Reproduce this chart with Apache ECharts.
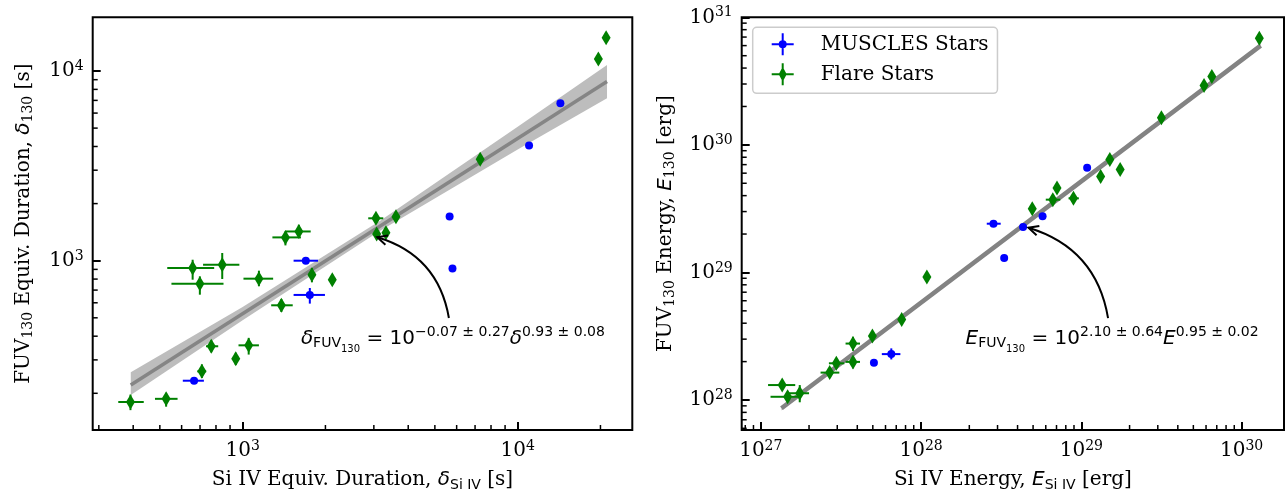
<!DOCTYPE html>
<html>
<head>
<meta charset="utf-8">
<script src="https://cdn.jsdelivr.net/npm/echarts@6.0.0/dist/echarts.min.js"></script>
<style>
	html, body { margin: 0; padding: 0; background: #fff; }
	#chart { width: 1286px; height: 495px; }
</style>
</head>
<body>
<div id="chart"></div>
<script>
// rows: [x, y, xLow, xHigh, yLow, yHigh]  (0 = no error bar)
var leftMuscles = [
	[666, 233, 606, 723, 0, 0],
	[1697, 1000, 1532, 1879, 0, 0],
	[1755, 660, 1532, 1992, 594, 718],
	[5657, 1711, 0, 0, 0, 0],
	[5794, 911, 0, 0, 0, 0],
	[11000, 4046, 0, 0, 0, 0],
	[14300, 6760, 0, 0, 0, 0]
];
var leftFlare = [
	[391, 180, 353, 437, 163, 197],
	[527, 187, 480, 580, 170, 201],
	[711, 261, 684, 737, 241, 284],
	[769, 354, 736, 815, 329, 381],
	[944, 304, 0, 0, 282, 327],
	[1052, 358, 966, 1146, 320, 392],
	[658, 915, 532, 788, 794, 1012],
	[699, 757, 551, 852, 662, 827],
	[843, 953, 718, 973, 801, 1098],
	[1146, 804, 1007, 1291, 733, 886],
	[1383, 582, 1270, 1521, 537, 628],
	[1431, 1327, 1283, 1629, 1204, 1427],
	[1601, 1426, 1431, 1768, 1316, 1547],
	[1786, 842, 0, 0, 769, 915],
	[2118, 794, 0, 0, 748, 844],
	[3053, 1673, 2862, 3246, 0, 0],
	[3071, 1383, 0, 0, 0, 0],
	[3319, 1405, 0, 0, 0, 0],
	[3610, 1706, 0, 0, 0, 0],
	[7306, 3428, 0, 0, 0, 0],
	[19650, 11570, 0, 0, 0, 0],
	[20970, 14970, 0, 0, 0, 0]
];
var rightMuscles = [
	[5.08e27, 1.96e28, 0, 0, 0, 0],
	[6.52e27, 2.29e28, 5.69e27, 7.43e27, 2.08e28, 2.54e28],
	[2.83e28, 2.41e29, 2.57e28, 3.14e28, 0, 0],
	[3.30e28, 1.30e29, 0, 0, 0, 0],
	[4.33e28, 2.27e29, 0, 0, 0, 0],
	[5.73e28, 2.76e29, 0, 0, 0, 0],
	[1.087e29, 6.62e29, 0, 0, 0, 0]
];
var rightFlare = [
	[1.36e27, 1.31e28, 1.11e27, 1.64e27, 0, 0],
	[1.47e27, 1.06e28, 1.15e27, 1.71e27, 0, 0],
	[1.75e27, 1.13e28, 1.48e27, 2.0e27, 9.6e27, 1.31e28],
	[2.69e27, 1.64e28, 2.36e27, 3.09e27, 0, 0],
	[2.96e27, 1.94e28, 2.66e27, 3.32e27, 0, 0],
	[3.76e27, 2.77e28, 3.38e27, 4.16e27, 2.43e28, 3.13e28],
	[3.76e27, 1.99e28, 3.38e27, 4.16e27, 1.77e28, 2.21e28],
	[4.97e27, 3.17e28, 0, 0, 0, 0],
	[7.57e27, 4.28e28, 0, 0, 0, 0],
	[1.087e28, 9.23e28, 0, 0, 0, 0],
	[4.94e28, 3.16e29, 0, 0, 0, 0],
	[6.64e28, 3.72e29, 6.0e28, 7.39e28, 0, 0],
	[7.05e28, 4.59e29, 0, 0, 0, 0],
	[8.93e28, 3.81e29, 8.32e28, 9.65e28, 0, 0],
	[1.32e29, 5.66e29, 0, 0, 0, 0],
	[1.506e29, 7.69e29, 0, 0, 0, 0],
	[1.747e29, 6.42e29, 0, 0, 0, 0],
	[3.16e29, 1.63e30, 0, 0, 0, 0],
	[5.83e29, 2.92e30, 0, 0, 0, 0],
	[6.52e29, 3.43e30, 0, 0, 0, 0],
	[1.29e30, 6.85e30, 0, 0, 0, 0]
];

// fit lines and confidence bands
var leftFitX = [392, 21130];
var leftFitY = [221, 8810];
var leftBandX = [392, 1000, 3162, 10000, 21130];
var leftBandLo = [196, 485, 1439, 3855, 7178];
var leftBandHi = [258, 570, 1622, 5082, 10755];
var rightFitX = [1.346e27, 1.315e30];
var rightFitY = [8.61e27, 6.0e30];
var rightBandLo = [8.26e27, 5.75e30];
var rightBandHi = [8.97e27, 6.27e30];

// annotation arrows: [headX, headY, tailX, tailY]
var leftArrow = [3087, 1329, 5623, 499];
var rightArrow = [4.68e28, 2.24e29, 1.468e29, 4.39e28];
var leftFormula = '{m|δ}{s1|FUV}{s2|130}{n| = 10}{p|−0.07 ± 0.27}{m|δ}{p|0.93 ± 0.08}';
var rightFormula = '{m|E}{s1|FUV}{s2|130}{n| = 10}{p|2.10 ± 0.64}{m|E}{p|0.95 ± 0.02}';

// axis ranges
var leftXRange = [285, 26110];
var leftYRange = [128.1, 19190];
var rightXRange = [7.6e26, 1.839e30];
var rightYRange = [5.82e27, 1e31];

var legendNames = ['MUSCLES Stars', 'Flare Stars'];

var BLUE = '#0000ff', GREEN = '#008000';
var SERIF = 'DejaVu Serif', SANS = 'DejaVu Sans';

function minorValues(lo, hi) {
	var out = [];
	for (var e = Math.floor(Math.log10(lo)); e <= Math.ceil(Math.log10(hi)); e++) {
		for (var m = 2; m <= 9; m++) {
			var v = m * Math.pow(10, e);
			if (v > lo && v < hi) out.push(v);
		}
	}
	return out;
}

var tickRich = {
	b: { fontFamily: SERIF, fontSize: 20, color: '#000' },
	s: { fontFamily: SERIF, fontSize: 14, color: '#000', padding: [0, 0, 9, 0] }
};
var nameRich = {
	t: { fontFamily: SERIF, fontSize: 20, color: '#000' },
	m: { fontFamily: SANS, fontStyle: 'italic', fontSize: 20, color: '#000' },
	sub: { fontFamily: SANS, fontSize: 14, color: '#000', padding: [10, 0, 0, 0] },
	subs: { fontFamily: SERIF, fontSize: 14, color: '#000', padding: [10, 0, 0, 0] }
};
var formulaRich = {
	m: { fontFamily: SANS, fontStyle: 'italic', fontSize: 20, fill: '#000' },
	n: { fontFamily: SANS, fontSize: 20, fill: '#000' },
	s1: { fontFamily: SANS, fontSize: 14, fill: '#000', padding: [9, 0, 0, 0] },
	s2: { fontFamily: SANS, fontSize: 10, fill: '#000', padding: [20, 0, 0, 0] },
	p: { fontFamily: SANS, fontSize: 14, fill: '#000', padding: [0, 0, 13, 0] }
};

function powLabel(v) {
	return '{b|10}{s|' + Math.round(Math.log10(v)) + '}';
}

function logAxis(grid, range, name, gap, showMax) {
	return {
		type: 'log', logBase: 10, gridIndex: grid, min: range[0], max: range[1],
		axisLine: { show: false },
		axisTick: { show: true, inside: true, length: 8, lineStyle: { color: '#000', width: 2 } },
		minorTick: { show: false },
		splitLine: { show: false },
		axisLabel: {
			show: true, showMinLabel: false, showMaxLabel: showMax, margin: 9,
			formatter: powLabel, rich: tickRich
		},
		name: name, nameLocation: 'middle', nameGap: gap,
		nameTextStyle: { fontFamily: SERIF, fontSize: 20, color: '#000', rich: nameRich }
	};
}

function errorSeries(rows, color, grid) {
	return {
		type: 'custom', xAxisIndex: grid, yAxisIndex: grid, z: 3,
		silent: true,
		dimensions: ['x', 'y', 'xl', 'xh', 'yl', 'yh'],
		encode: { x: 0, y: 1 },
		data: rows,
		renderItem: function (params, api) {
			var x = api.value(0), y = api.value(1);
			var kids = [];
			if (api.value(2) > 0) {
				var a = api.coord([api.value(2), y]), b = api.coord([api.value(3), y]);
				kids.push({ type: 'line', shape: { x1: a[0], y1: a[1], x2: b[0], y2: b[1] }, style: { stroke: color, lineWidth: 2 } });
			}
			if (api.value(4) > 0) {
				var c = api.coord([x, api.value(4)]), d = api.coord([x, api.value(5)]);
				kids.push({ type: 'line', shape: { x1: c[0], y1: c[1], x2: d[0], y2: d[1] }, style: { stroke: color, lineWidth: 2 } });
			}
			return { type: 'group', children: kids };
		}
	};
}

function markerSeries(name, rows, color, grid, symbol, size) {
	return {
		type: 'scatter', name: name, xAxisIndex: grid, yAxisIndex: grid, z: 4,
		symbol: symbol, symbolSize: size,
		itemStyle: { color: color, opacity: 1 },
		emphasis: { disabled: true },
		data: rows.map(function (r) { return [r[0], r[1]]; })
	};
}

function bandSeries(xs, lo, hi, grid, color) {
	return {
		type: 'custom', xAxisIndex: grid, yAxisIndex: grid, z: 1, silent: true,
		data: [[xs[0], lo[0]]],
		renderItem: function (params, api) {
			var pts = [], i;
			for (i = 0; i < xs.length; i++) pts.push(api.coord([xs[i], hi[i]]));
			for (i = xs.length - 1; i >= 0; i--) pts.push(api.coord([xs[i], lo[i]]));
			return { type: 'polygon', shape: { points: pts }, style: { fill: color } };
		}
	};
}

function fitSeries(xs, ys, grid, color, width) {
	return {
		type: 'line', xAxisIndex: grid, yAxisIndex: grid, z: 2, silent: true,
		symbol: 'none',
		lineStyle: { color: color, width: width },
		data: xs.map(function (x, i) { return [x, ys[i]]; })
	};
}

// minor ticks at 2..9 x 10^n; 'edge' is the other axis' min, so the point lands on the frame
function minorTickSeries(grid, vals, dir, edge) {
	return {
		type: 'custom', xAxisIndex: grid, yAxisIndex: grid, z: 5, silent: true,
		data: vals.map(function (v) { return dir === 'x' ? [v, edge] : [edge, v]; }),
		renderItem: function (params, api) {
			var p = api.coord([api.value(0), api.value(1)]);
			if (dir === 'x') {
				return { type: 'line', shape: { x1: p[0], y1: p[1], x2: p[0], y2: p[1] - 5 }, style: { stroke: '#000', lineWidth: 1.5 } };
			}
			return { type: 'line', shape: { x1: p[0], y1: p[1], x2: p[0] + 5, y2: p[1] }, style: { stroke: '#000', lineWidth: 1.5 } };
		}
	};
}

function arrowSeries(arrow, label, grid) {
	return {
		type: 'custom', xAxisIndex: grid, yAxisIndex: grid, z: 6, silent: true,
		data: [arrow],
		renderItem: function (params, api) {
			var h = api.coord([api.value(0), api.value(1)]);
			var t = api.coord([api.value(2), api.value(3)]);
			var dx = h[0] - t[0], dy = h[1] - t[1];
			var cx = (h[0] + t[0]) / 2 - 0.31 * dy, cy = (h[1] + t[1]) / 2 + 0.31 * dx;
			var ux = h[0] - cx, uy = h[1] - cy, len = Math.sqrt(ux * ux + uy * uy);
			ux /= len; uy /= len;
			var L = 11, a = 0.45, ca = Math.cos(a), sa = Math.sin(a);
			var p1 = [h[0] - L * (ux * ca - uy * sa), h[1] - L * (uy * ca + ux * sa)];
			var p2 = [h[0] - L * (ux * ca + uy * sa), h[1] - L * (uy * ca - ux * sa)];
			return {
				type: 'group', children: [
					{ type: 'bezierCurve', shape: { x1: t[0], y1: t[1], x2: h[0], y2: h[1], cpx1: cx, cpy1: cy }, style: { stroke: '#000', lineWidth: 2, fill: 'none' } },
					{ type: 'polyline', shape: { points: [p1, h, p2] }, style: { stroke: '#000', lineWidth: 2, fill: 'none' } },
					{ type: 'text', style: { text: label, rich: formulaRich, x: t[0] + 4, y: t[1] + 21, align: 'center', verticalAlign: 'middle', fill: '#000', fontFamily: SANS, fontSize: 20 } }
				]
			};
		}
	};
}

var iconMuscles = 'path://M0,10L22,10L22,12L0,12Z M10,0L12,0L12,22L10,22Z M15,11A4,4 0 1 1 7,11A4,4 0 1 1 15,11Z';
var iconFlare = 'path://M0,10L22,10L22,12L0,12Z M10,0L12,0L12,22L10,22Z M11,3.5L15,11L11,18.5L7,11Z';

var myChart = echarts.init(document.getElementById('chart'), null, { renderer: 'canvas' });

var option = {
	animation: false,
	backgroundColor: '#fff',
	grid: [
		{ left: 92.7, top: 17.3, width: 539.6, height: 412.7, show: true, borderColor: '#000', borderWidth: 2, backgroundColor: 'transparent', containLabel: false, outerBoundsMode: 'none' },
		{ left: 741.7, top: 17.3, width: 542.3, height: 412.7, show: true, borderColor: '#000', borderWidth: 2, backgroundColor: 'transparent', containLabel: false, outerBoundsMode: 'none' }
	],
	xAxis: [
		logAxis(0, leftXRange, '{t|Si IV Equiv. Duration, }{m|δ}{sub|Si IV}{t| [s]}', 38, false),
		logAxis(1, rightXRange, '{t|Si IV Energy, }{m|E}{sub|Si IV}{t| [erg]}', 38, false)
	],
	yAxis: [
		logAxis(0, leftYRange, '{t|FUV}{subs|130}{t| Equiv. Duration, }{m|δ}{subs|130}{t| [s]}', 57, false),
		logAxis(1, rightYRange, '{t|FUV}{subs|130}{t| Energy, }{m|E}{subs|130}{t| [erg]}', 64, true)
	],
	legend: {
		orient: 'vertical', left: 752.7, top: 27.3,
		padding: [6, 9, 8, 19], itemGap: 8, itemWidth: 22, itemHeight: 22,
		backgroundColor: 'rgba(255,255,255,0.8)', borderColor: '#cccccc', borderWidth: 1.5, borderRadius: 4,
		textStyle: { fontFamily: SERIF, fontSize: 20, color: '#000', padding: [0, 0, 0, 22] },
		selectedMode: false,
		data: [
			{ name: legendNames[0], icon: iconMuscles },
			{ name: legendNames[1], icon: iconFlare }
		]
	},
	series: [
		bandSeries(leftBandX, leftBandLo, leftBandHi, 0, '#bdbdbd'),
		fitSeries(leftFitX, leftFitY, 0, '#858585', 3.5),
		errorSeries(leftMuscles, BLUE, 0),
		errorSeries(leftFlare, GREEN, 0),
		markerSeries(legendNames[0], leftMuscles, BLUE, 0, 'circle', 8),
		markerSeries(legendNames[1], leftFlare, GREEN, 0, 'diamond', [9, 15]),
		minorTickSeries(0, minorValues(leftXRange[0], leftXRange[1]), 'x', leftYRange[0]),
		minorTickSeries(0, minorValues(leftYRange[0], leftYRange[1]), 'y', leftXRange[0]),
		arrowSeries(leftArrow, leftFormula, 0),

		bandSeries(rightFitX, rightBandLo, rightBandHi, 1, '#bdbdbd'),
		fitSeries(rightFitX, rightFitY, 1, '#838383', 4.5),
		errorSeries(rightMuscles, BLUE, 1),
		errorSeries(rightFlare, GREEN, 1),
		markerSeries(legendNames[0], rightMuscles, BLUE, 1, 'circle', 8),
		markerSeries(legendNames[1], rightFlare, GREEN, 1, 'diamond', [9, 15]),
		minorTickSeries(1, minorValues(rightXRange[0], rightXRange[1]), 'x', rightYRange[0]),
		minorTickSeries(1, minorValues(rightYRange[0], rightYRange[1]), 'y', rightXRange[0]),
		arrowSeries(rightArrow, rightFormula, 1)
	]
};

myChart.setOption(option);
</script>
</body>
</html>
